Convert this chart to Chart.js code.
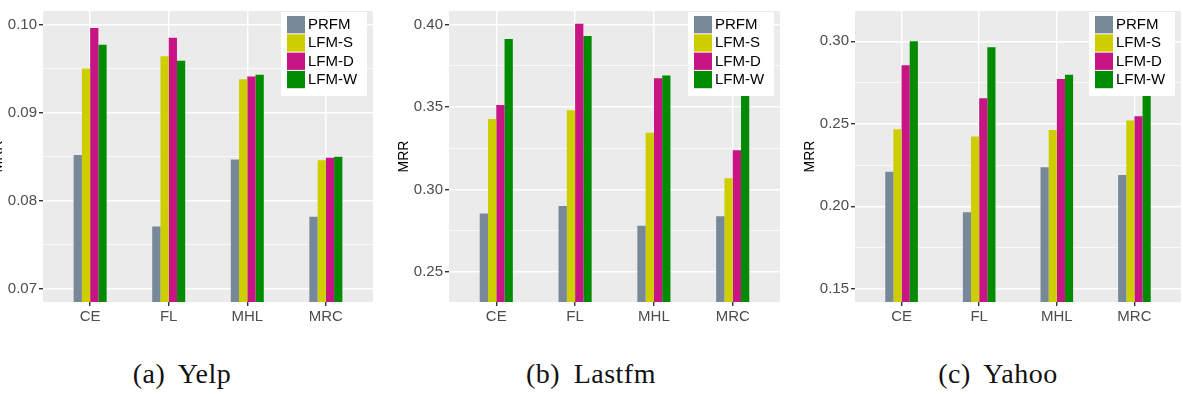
<!DOCTYPE html>
<html>
<head>
<meta charset="utf-8">
<script src="https://cdn.jsdelivr.net/npm/chart.js@4.4.1/dist/chart.umd.min.js"></script>
<style>
  body { margin: 0; background: #fff; width: 1183px; height: 394px; position: relative; overflow: hidden; }
  canvas { position: absolute; top: 0; }
  .cap { position: absolute; top: 360px; width: 300px; text-align: center; font-family: "Liberation Serif", serif;
         font-size: 28px; line-height: 28px; letter-spacing: 0.5px; word-spacing: 6px; color: #111; }
</style>
</head>
<body>
<canvas id="c1" width="390" height="325" style="left:-10px"></canvas>
<canvas id="c2" width="391" height="325" style="left:396px"></canvas>
<canvas id="c3" width="381" height="325" style="left:802px"></canvas>
<div class="cap" style="left:32px">(a) Yelp</div>
<div class="cap" style="left:441px">(b) Lastfm</div>
<div class="cap" style="left:848px">(c) Yahoo</div>
<script>
var categories = ['CE', 'FL', 'MHL', 'MRC'];
var methods = ['PRFM', 'LFM-S', 'LFM-D', 'LFM-W'];
var colors = ['#778899', '#CDCD00', '#C71585', '#008B00'];

// Yelp
var yelpPRFM = [0.0852, 0.0771, 0.0847, 0.0782];
var yelpLFMS = [0.0950, 0.0964, 0.0938, 0.0846];
var yelpLFMD = [0.0996, 0.0985, 0.0941, 0.0849];
var yelpLFMW = [0.0977, 0.0959, 0.0943, 0.0850];
var yelpTicks = [0.07, 0.08, 0.09, 0.10];

// Lastfm
var lastfmPRFM = [0.2855, 0.2900, 0.2781, 0.2839];
var lastfmLFMS = [0.3428, 0.3480, 0.3345, 0.3068];
var lastfmLFMD = [0.3512, 0.4004, 0.3675, 0.3239];
var lastfmLFMW = [0.3912, 0.3930, 0.3691, 0.3700];
var lastfmTicks = [0.25, 0.30, 0.35, 0.40];

// Yahoo
var yahooPRFM = [0.2209, 0.1964, 0.2236, 0.2189];
var yahooLFMS = [0.2466, 0.2422, 0.2462, 0.2520];
var yahooLFMD = [0.2855, 0.2655, 0.2771, 0.2546];
var yahooLFMW = [0.3000, 0.2964, 0.2797, 0.2850];
var yahooTicks = [0.15, 0.20, 0.25, 0.30];

var sansFont = '"Liberation Sans", Arial, sans-serif';

// grey panel behind the grid, like ggplot
var panelBg = {
  id: 'panelBg',
  beforeDraw: function(chart) {
    var a = chart.chartArea, ctx = chart.ctx;
    ctx.save();
    ctx.fillStyle = '#EBEBEB';
    ctx.fillRect(a.left, a.top, a.right - a.left, a.bottom - a.top);
    ctx.restore();
  }
};

// legend box inside the panel, top right
var insideLegend = {
  id: 'insideLegend',
  afterDraw: function(chart) {
    var a = chart.chartArea, ctx = chart.ctx;
    var w = 86, h = 84;
    var x = a.right - 6 - w, y = a.top + 1;
    ctx.save();
    ctx.fillStyle = '#fff';
    ctx.fillRect(x, y, w, h);
    ctx.font = '15px ' + sansFont;
    ctx.textBaseline = 'middle';
    chart.data.datasets.forEach(function(d, i) {
      var ky = y + 4 + i * 18.3;
      ctx.fillStyle = d.backgroundColor;
      ctx.fillRect(x + 6, ky, 18, 17.3);
      ctx.fillStyle = '#000';
      ctx.fillText(d.label, x + 27, ky + 9);
    });
    ctx.restore();
  }
};

function makePanel(id, series, ticks, yMin, yMax, chartRightPad) {
  var step = ticks[1] - ticks[0];
  var gridTicks = [];
  ticks.forEach(function(t) { gridTicks.push({ value: t }); });
  ticks.concat([ticks[0] - step]).forEach(function(t) {
    var m = t + step / 2;
    if (m > yMin && m < yMax) gridTicks.push({ value: m, minor: true });
  });
  gridTicks.sort(function(p, q) { return p.value - q.value; });

  var datasets = series.map(function(vals, i) {
    return {
      label: methods[i],
      backgroundColor: colors[i],
      borderWidth: 0,
      categoryPercentage: 0.42,
      barPercentage: 1,
      data: categories.map(function(c, j) { return { x: j, y: vals[j] }; })
    };
  });

  return new Chart(document.getElementById(id).getContext('2d'), {
    type: 'bar',
    data: { datasets: datasets },
    plugins: [panelBg, insideLegend],
    options: {
      responsive: false,
      animation: false,
      layout: { padding: { top: 7, right: chartRightPad, bottom: 0, left: 0 } },
      plugins: { legend: { display: false }, tooltip: { enabled: false } },
      scales: {
        x: {
          type: 'linear',
          min: -0.6,
          max: 3.6,
          offset: false,
          afterBuildTicks: function(s) {
            s.ticks = categories.map(function(c, i) { return { value: i }; });
          },
          afterFit: function(s) { s.height = 23; },
          ticks: {
            autoSkip: false,
            maxRotation: 0,
            padding: 2,
            color: '#4D4D4D',
            font: { family: sansFont, size: 15 },
            callback: function(v) { return categories[Math.round(v)]; }
          },
          grid: { offset: false, color: '#fff', lineWidth: 1.4, tickColor: '#333', tickLength: 4 },
          border: { display: false }
        },
        y: {
          min: yMin,
          max: yMax,
          bounds: 'data',
          afterBuildTicks: function(s) { s.ticks = gridTicks.slice(); },
          afterFit: function(s) { s.width = 53; },
          title: { display: true, text: 'MRR', color: '#000', padding: 0, font: { family: sansFont, size: 14 } },
          ticks: {
            autoSkip: false,
            padding: 2,
            color: '#4D4D4D',
            font: { family: sansFont, size: 15 },
            callback: function(v, i, tk) { return tk[i].minor ? '' : v.toFixed(2); }
          },
          grid: {
            color: '#fff',
            lineWidth: function(c) { return c.tick && c.tick.minor ? 0.7 : 1.4; },
            tickColor: function(c) { return c.tick && c.tick.minor ? 'rgba(0,0,0,0)' : '#333'; },
            tickLength: 4
          },
          border: { display: false }
        }
      }
    }
  });
}

makePanel('c1', [yelpPRFM, yelpLFMS, yelpLFMD, yelpLFMW], yelpTicks, 0.06853, 0.10153, 7);
makePanel('c2', [lastfmPRFM, lastfmLFMS, lastfmLFMD, lastfmLFMW], lastfmTicks, 0.2319, 0.4082, 7);
makePanel('c3', [yahooPRFM, yahooLFMS, yahooLFMD, yahooLFMW], yahooTicks, 0.1420, 0.3183, 2);
</script>
</body>
</html>
